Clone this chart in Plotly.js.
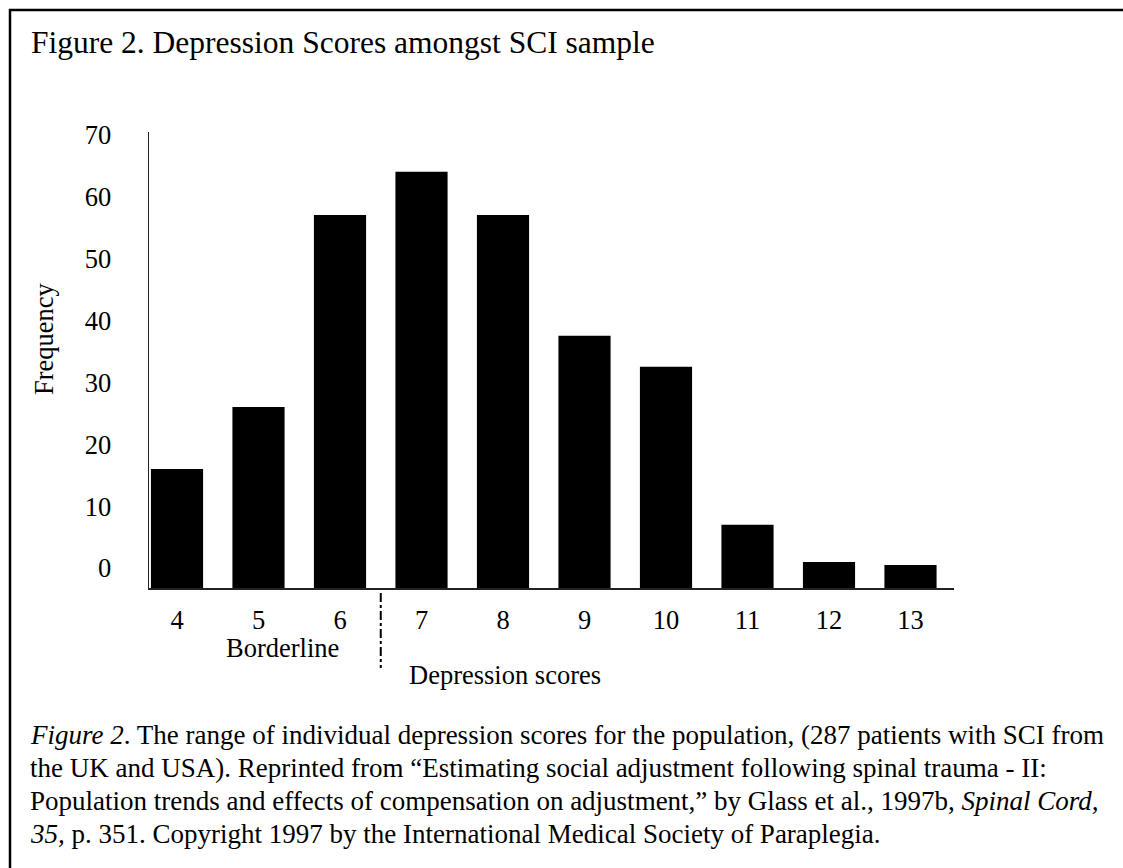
<!DOCTYPE html>
<html>
<head>
<meta charset="utf-8">
<script src="https://cdn.plot.ly/plotly-3.0.1.min.js"></script>
<style>
  html, body { margin: 0; padding: 0; background: #fff; }
  #chart { width: 1123px; height: 868px; }
</style>
</head>
<body>
<div id="chart"></div>
<script>
// ---- data ----
const scores = [4, 5, 6, 7, 8, 9, 10, 11, 12, 13];
const frequency = [16, 26, 57, 64, 57, 37.5, 32.5, 7, 1, 0.5];
const yTickValues = [0, 10, 20, 30, 40, 50, 60, 70];
const yTickLabels = ['0', '10', '20', '30', '40', '50', '60', '70'];
const xTickLabels = ['4', '5', '6', '7', '8', '9', '10', '11', '12', '13'];
const borderlineCutoff = 6.5;   // boundary between score 6 and 7

const titleText = 'Figure 2. Depression Scores amongst SCI sample';
const xTitleText = 'Depression scores';
const yTitleText = 'Frequency';
const borderlineText = 'Borderline';
const captionLines = [
  '<i>Figure 2</i>. The range of individual depression scores for the population, (287 patients with SCI from',
  'the UK and USA). Reprinted from \u201cEstimating social adjustment following spinal trauma - II:',
  'Population trends and effects of compensation on adjustment,\u201d by Glass et al., 1997b, <i>Spinal Cord,</i>',
  '<i>35,</i> p. 351. Copyright 1997 by the International Medical Society of Paraplegia.'
];

// ---- styling ----
const FONT = 'Liberation Serif, Times New Roman, serif';
const AXIS_FLOOR = -3.2;   // the drawn baseline sits a little below the "0" label

const trace = {
  type: 'bar',
  x: scores,
  y: frequency.map(v => v - AXIS_FLOOR),
  base: AXIS_FLOOR,
  width: 0.64,
  marker: { color: '#000', line: { width: 0 } },
  hovertemplate: 'Score %{x}<extra></extra>'
};

const PL = 149, PR = 954, PT = 132, PB = 588;
const W = 1123, H = 868;
const px = v => (v - PL) / (PR - PL);          // page px -> paper x
const py = v => (PB - v) / (PB - PT);          // page px -> paper y

const annotations = [
  { text: xTitleText, xref: 'paper', yref: 'paper', x: px(505), y: py(675),
    xanchor: 'center', yanchor: 'middle', showarrow: false,
    font: { family: FONT, size: 26.5, color: '#000' } },
  { text: yTitleText, xref: 'paper', yref: 'paper', x: px(44), y: py(339),
    xanchor: 'center', yanchor: 'middle', showarrow: false, textangle: -90,
    font: { family: FONT, size: 26.5, color: '#000' } },
  { text: borderlineText, xref: 'paper', yref: 'paper', x: px(282), y: py(648),
    xanchor: 'center', yanchor: 'middle', showarrow: false,
    font: { family: FONT, size: 26.5, color: '#000' } }
];
const captionY = [735, 768, 801, 834];
captionLines.forEach((t, i) => annotations.push({
  text: t, xref: 'paper', yref: 'paper', x: px(28), y: py(captionY[i]),
  xanchor: 'left', yanchor: 'middle', showarrow: false, align: 'left',
  font: { family: FONT, size: 27, color: '#000' }
}));

const layout = {
  width: W, height: H,
  margin: { l: PL, r: W - PR, t: PT, b: H - PB, pad: 0 },
  paper_bgcolor: '#fff', plot_bgcolor: '#fff',
  showlegend: false,
  font: { family: FONT, color: '#000' },
  title: {
    text: titleText,
    x: 31 / W, xanchor: 'left', xref: 'container',
    y: 1 - 42 / H, yanchor: 'middle', yref: 'container',
    font: { family: FONT, size: 31.5, color: '#000' }
  },
  xaxis: {
    type: 'linear',
    range: [3.6564, 13.5337],
    tickvals: scores, ticktext: xTickLabels,
    showgrid: false, zeroline: false,
    showline: true, linecolor: '#222', linewidth: 1.5,
    ticks: '', ticklabelstandoff: 8,
    tickfont: { family: FONT, size: 26.5, color: '#000' },
    fixedrange: true
  },
  yaxis: {
    range: [AXIS_FLOOR, 70.4],
    tickvals: yTickValues, ticktext: yTickLabels,
    showgrid: false, zeroline: false,
    showline: true, linecolor: '#222', linewidth: 1.5,
    ticks: '', ticklabelstandoff: 31,
    tickfont: { family: FONT, size: 26.5, color: '#000' },
    fixedrange: true
  },
  shapes: [
    { type: 'line', xref: 'x', yref: 'paper',
      x0: borderlineCutoff, x1: borderlineCutoff, y0: py(593), y1: py(668),
      line: { color: '#000', width: 2, dash: 'dashdot' } },
    { type: 'rect', xref: 'paper', yref: 'paper', layer: 'above',
      x0: px(10), x1: px(1140), y0: py(10), y1: py(890),
      line: { color: '#000', width: 2.5 }, fillcolor: 'rgba(0,0,0,0)' }
  ],
  annotations: annotations
};

Plotly.newPlot('chart', [trace], layout, { displayModeBar: false, staticPlot: true });
</script>
</body>
</html>
